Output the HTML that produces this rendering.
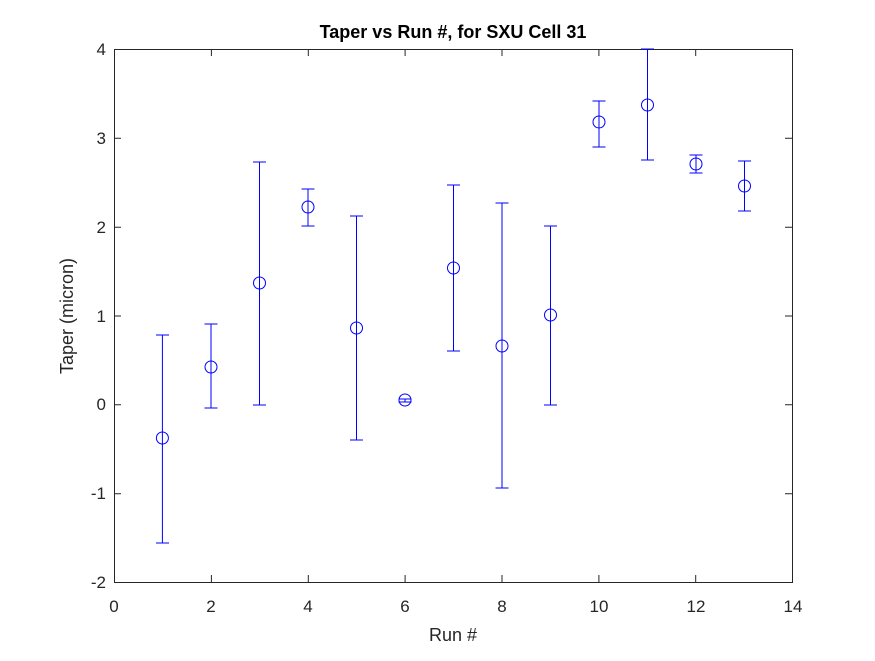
<!DOCTYPE html>
<html><head><style>body{margin:0;background:#fff}</style></head><body>
<svg width="875" height="656" xmlns="http://www.w3.org/2000/svg" font-family="Liberation Sans, Arial, sans-serif">
<rect width="875" height="656" fill="#fff"/>
<g stroke="#262626" stroke-width="1" fill="none">
<rect x="114.5" y="49.5" width="678" height="533"/>
<path d="M114.5 582v-7M211.4 582v-7M308.3 582v-7M405.1 582v-7M502 582v-7M598.9 582v-7M695.7 582v-7M792.5 582v-7
M114.5 49v7M211.4 49v7M308.3 49v7M405.1 49v7M502 49v7M598.9 49v7M695.7 49v7M792.5 49v7
M114 582.5h7M114 493.7h7M114 404.8h7M114 316h7M114 227.2h7M114 138.3h7M114 49.5h7
M792 582.5h-7M792 493.7h-7M792 404.8h-7M792 316h-7M792 227.2h-7M792 138.3h-7M792 49.5h-7"/>
</g>
<g fill="#262626" font-size="17" text-anchor="middle">
<text x="114" y="612">0</text><text x="211" y="612">2</text><text x="308" y="612">4</text><text x="405" y="612">6</text><text x="502" y="612">8</text><text x="599" y="612">10</text><text x="696" y="612">12</text><text x="793" y="612">14</text>
</g>
<g fill="#262626" font-size="17" text-anchor="end">
<text x="106" y="588">-2</text><text x="106" y="499">-1</text><text x="106" y="410">0</text><text x="106" y="322">1</text><text x="106" y="233">2</text><text x="106" y="144">3</text><text x="106" y="55">4</text>
</g>
<text x="453" y="641" font-size="18" fill="#262626" text-anchor="middle">Run #</text>
<text transform="translate(73 316) rotate(-90)" font-size="18" fill="#262626" text-anchor="middle">Taper (micron)</text>
<text x="453" y="38" font-size="18" font-weight="bold" fill="#000" text-anchor="middle">Taper vs Run #, for SXU Cell 31</text>
<g stroke="#0000ff" stroke-width="1" fill="none">
<path d="M162.4 335V543M156 335h13M156 543h13"/>
<path d="M211 324V408M204.5 324h13M204.5 408h13"/>
<path d="M259.5 162V405M253 162h13M253 405h13"/>
<path d="M308 189V226M301.5 189h13M301.5 226h13"/>
<path d="M356.5 216V440M350 216h13M350 440h13"/>
<path d="M405 399V402M398.5 399h13M398.5 402h13"/>
<path d="M453.5 185V351M447 185h13M447 351h13"/>
<path d="M502 203V488M495.5 203h13M495.5 488h13"/>
<path d="M550.5 226V405M544 226h13M544 405h13"/>
<path d="M599 101V147M592.5 101h13M592.5 147h13"/>
<path d="M647.5 49V160M641 49h13M641 160h13"/>
<path d="M696 155V173M689.5 155h13M689.5 173h13"/>
<path d="M744.5 161V211M738 161h13M738 211h13"/>
</g>
<g stroke="#0000ff" fill="none" stroke-width="1">
<circle cx="162.4" cy="438" r="6"/><circle cx="211" cy="367" r="6"/><circle cx="259.5" cy="283" r="6"/><circle cx="308" cy="207" r="6"/><circle cx="356.5" cy="328" r="6"/><circle cx="405" cy="400" r="6"/><circle cx="453.5" cy="268" r="6"/><circle cx="502" cy="346" r="6"/><circle cx="550.5" cy="315" r="6"/><circle cx="599" cy="122" r="6"/><circle cx="647.5" cy="105" r="6"/><circle cx="696" cy="164" r="6"/><circle cx="744.5" cy="186" r="6"/>
</g>
</svg>
</body></html>
